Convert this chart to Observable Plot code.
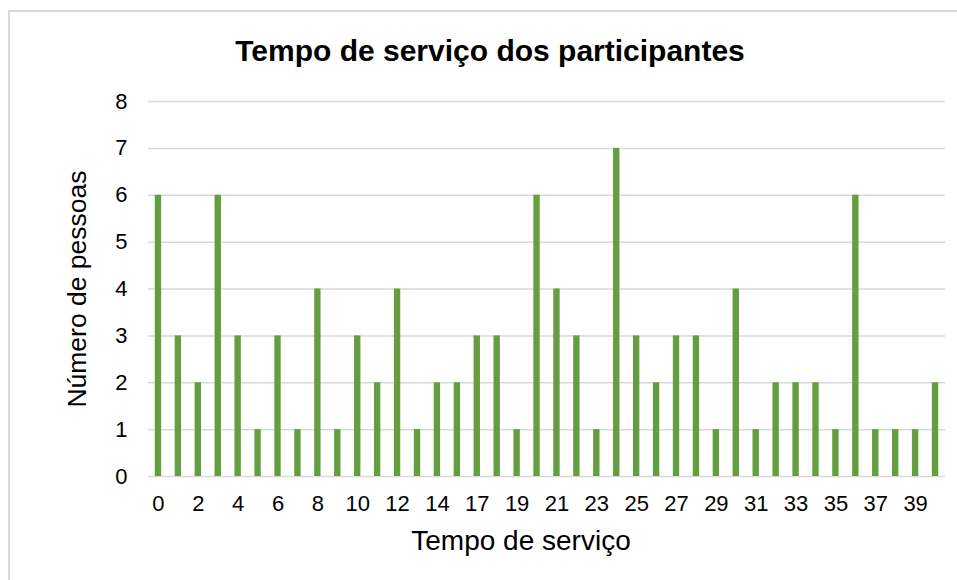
<!DOCTYPE html>
<html>
<head>
<meta charset="utf-8">
<script src="https://cdn.jsdelivr.net/npm/d3@7"></script>
<script src="https://cdn.jsdelivr.net/npm/@observablehq/plot@0.6"></script>
<style>
  html, body { margin: 0; padding: 0; background: #fff; }
  #wrap { position: relative; width: 957px; height: 580px; overflow: hidden; background: #fff;
          font-family: "Liberation Sans", Arial, sans-serif; }
  #frame { position: absolute; left: 8px; top: 10px; width: 1000px; height: 700px;
           border: 2px solid #d9d9d9; box-sizing: border-box; }
  #title { position: absolute; left: 490px; top: 36px; transform: translateX(-50%);
           font-weight: bold; font-size: 30px; line-height: 30px; color: #000; white-space: nowrap; }
  #chart { position: absolute; left: 0; top: 0; }
  #chart svg { background: transparent !important; }
</style>
</head>
<body>
<div id="wrap">
  <div id="frame"></div>
  <div id="chart"></div>
  <div id="title">Tempo de serviço dos participantes</div>
</div>
<script>
// Tempo de serviço (anos) – note: 16 is absent in the source
const categories = [0,1,2,3,4,5,6,7,8,9,10,11,12,13,14,15,17,18,19,20,21,22,23,24,25,26,27,28,29,30,31,32,33,34,35,36,37,38,39,40];
const counts     = [6,3,2,6,3,1,3,1,4,1,3,2,4,1,2,2,3,3,1,6,4,3,1,7,3,2,3,3,1,4,1,2,2,2,1,6,1,1,1,2];
const yTicks = [0,1,2,3,4,5,6,7,8];
const xTickLabels = categories.filter((d, i) => i % 2 === 0);
const xTitle = "Tempo de serviço";
const yTitle = "Número de pessoas";

const data = categories.map((c, i) => ({cat: c, n: counts[i]}));

const chart = Plot.plot({
  width: 957,
  height: 580,
  marginTop: 101,
  marginBottom: 104,
  marginLeft: 148,
  marginRight: 12,
  style: {fontFamily: '"Liberation Sans", Arial, sans-serif', color: "#000", background: "transparent"},
  x: {type: "band", domain: categories, paddingInner: 0.68, paddingOuter: 0.34},
  y: {domain: [0, 8]},
  marks: [
    Plot.gridY(yTicks, {stroke: "#d9d9d9", strokeOpacity: 1, strokeWidth: 1.5}),
    Plot.barY(data, {x: "cat", y: "n", fill: "#659e41"}),
    Plot.axisY(yTicks, {tickSize: 0, tickPadding: 21, fontSize: 22, label: null, fill: "#000"}),
    Plot.axisX(xTickLabels, {tickSize: 0, tickPadding: 19, fontSize: 22, label: null, fill: "#000"}),
    Plot.text([xTitle], {text: d => d, frameAnchor: "bottom", textAnchor: "middle", dy: 73, dx: -26, fontSize: 28, fill: "#000"}),
    Plot.text([yTitle], {text: d => d, frameAnchor: "left", textAnchor: "middle", rotate: -90, dx: -71, fontSize: 26.5, fill: "#000"})
  ]
});
document.getElementById("chart").appendChild(chart);
</script>
</body>
</html>
